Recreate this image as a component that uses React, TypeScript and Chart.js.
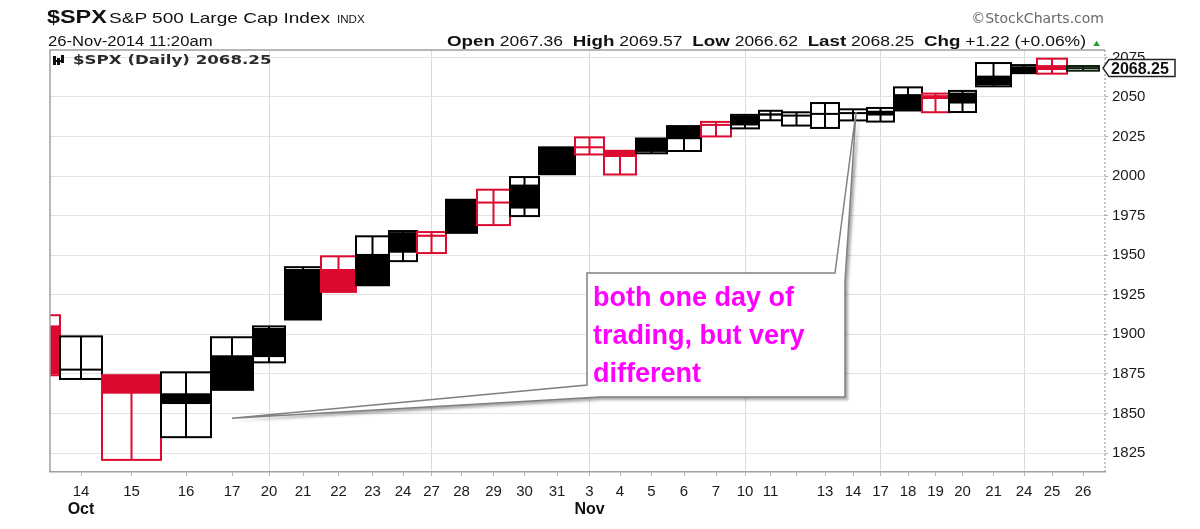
import React, { useEffect, useRef } from "react";
import { Chart, registerables } from "chart.js";
Chart.register(...registerables);

// ---------------- data ----------------
const tickLabels = ["13","14","15","16","17","20","21","22","23","24","27","28","29","30","31","3","4","5","6","7","10","11","","13","14","17","18","19","20","21","24","25","26"];
const monthLabels = ["Oct", "Nov"];
const monthIdx = [1, 15];
const weekStartIdx = [5, 10, 15, 20, 25, 30];
const yTickValues = [1825, 1850, 1875, 1900, 1925, 1950, 1975, 2000, 2025, 2050, 2075];

const openP = [1905.65,1877.11,1874.18,1855.95,1864.91,1885.62,1909.38,1941.29,1931.02,1951.59,1962.97,1964.14,1983.29,1979.49,2001.20,2018.21,2015.81,2015.29,2023.33,2032.36,2032.01,2038.20,2037.75,2039.21,2039.74,2038.29,2041.48,2051.16,2045.87,2057.46,2065.07,2070.15,2067.36];
const highP = [1912.09,1898.71,1874.18,1876.01,1898.16,1905.03,1942.45,1949.31,1961.95,1965.27,1964.64,1985.05,1991.40,1999.40,2018.19,2024.46,2015.98,2023.77,2031.61,2034.26,2038.70,2041.28,2040.33,2046.18,2042.22,2043.07,2056.08,2052.14,2053.84,2071.46,2070.17,2074.21,2069.57];
const lowP = [1874.14,1871.79,1820.66,1835.02,1864.91,1882.30,1909.38,1926.83,1931.02,1946.27,1951.37,1964.14,1969.04,1974.75,2001.20,2013.68,2001.01,2014.42,2015.86,2025.07,2030.17,2035.28,2031.95,2030.44,2035.20,2034.46,2041.48,2040.37,2040.49,2056.75,2065.07,2064.75,2066.62];
const closeP = [1874.74,1877.70,1862.49,1862.76,1886.76,1904.01,1941.28,1927.11,1950.82,1964.58,1961.63,1985.05,1982.30,1994.65,2018.05,2017.81,2012.10,2023.57,2031.21,2031.92,2038.26,2039.68,2038.25,2039.33,2039.82,2041.32,2051.80,2048.72,2052.75,2063.50,2069.41,2067.03,2068.25];
// volume (millions of shares) -> box widths
const volume = [3500,4200,5900,5000,4200,3200,3600,3500,3300,2800,2900,3100,3300,2900,3600,2900,3200,3100,3400,3000,2800,2300,2900,2800,2800,2700,2800,2700,2700,3500,2600,3000,3200];
// d = down (red), u = up (black), l = last (partial day)
const tone = ["d","u","d","u","u","u","u","d","u","u","d","u","d","u","u","d","d","u","u","d","u","u","u","u","u","u","u","d","u","u","u","d","l"];

const X_MIN = 2500;
const X_MAX = 108000;
const Y_MIN = 1813;
const Y_MAX = 2079.7;

const starts: number[] = [];
{
  let acc = 0;
  volume.forEach((v) => { starts.push(acc); acc += v; });
}
const centers = volume.map((v, i) => starts[i] + v / 2);
const visibleIdx = centers.map((_, i) => i).filter((i) => centers[i] >= X_MIN && centers[i] <= X_MAX);

const FONT = "'Liberation Sans', Arial, sans-serif";
const RED = "#dc0a30";
const BLACK = "#000000";
const LAST = "#0c200c";

const candlePlugin = {
  id: "candleVolume",
  afterDatasetsDraw(chart: any) {
    const { ctx, chartArea: a, scales } = chart;
    const x = scales.x, y = scales.y;
    ctx.save();
    ctx.beginPath();
    ctx.rect(a.left, a.top, a.right - a.left, a.bottom - a.top);
    ctx.clip();
    for (let i = 0; i < volume.length; i++) {
      const x0 = x.getPixelForValue(starts[i]);
      const x1 = x.getPixelForValue(starts[i] + volume[i]);
      const col = tone[i] === "d" ? RED : tone[i] === "l" ? LAST : BLACK;
      const yH = y.getPixelForValue(highP[i]);
      const yL = y.getPixelForValue(lowP[i]);
      const yO = y.getPixelForValue(openP[i]);
      const yC = y.getPixelForValue(closeP[i]);
      ctx.strokeStyle = col;
      ctx.fillStyle = col;
      ctx.lineWidth = 2;
      ctx.strokeRect(x0, yH, x1 - x0, yL - yH);
      ctx.beginPath();
      ctx.moveTo((x0 + x1) / 2, yH);
      ctx.lineTo((x0 + x1) / 2, yL);
      ctx.stroke();
      const top = Math.min(yO, yC);
      const h = Math.max(Math.abs(yO - yC), 2);
      ctx.fillRect(x0 - 1, top - (h === 2 ? 1 : 0), x1 - x0 + 2, h);
    }
    ctx.restore();
  },
  afterDraw(chart: any) {
    const { ctx, chartArea: a, scales } = chart;
    const x = scales.x, y = scales.y;
    ctx.save();
    // plot frame: top & left solid, right dotted
    ctx.strokeStyle = "#a0a0a0";
    ctx.lineWidth = 1.5;
    ctx.beginPath();
    ctx.moveTo(a.left, a.bottom);
    ctx.lineTo(a.left, a.top);
    ctx.lineTo(a.right, a.top);
    ctx.stroke();
    ctx.setLineDash([2, 2]);
    ctx.lineWidth = 1.2;
    ctx.beginPath();
    ctx.moveTo(a.right, a.top);
    ctx.lineTo(a.right, a.bottom);
    ctx.stroke();
    ctx.setLineDash([]);

    // legend icon
    ctx.fillStyle = "#111";
    ctx.fillRect(53, 56, 3, 9);
    ctx.fillRect(57, 58, 3, 7);
    ctx.fillRect(61, 55, 3, 8);
    ctx.fillRect(53, 60, 11, 2);

    // callout
    const tipA = { x: x.getPixelForValue(centers[4]), y: y.getPixelForValue(1847) };
    const tipB = { x: x.getPixelForValue(centers[24]) + 3, y: y.getPixelForValue(2040.5) };
    ctx.shadowColor = "rgba(0,0,0,0.35)";
    ctx.shadowOffsetX = 3;
    ctx.shadowOffsetY = 3;
    ctx.shadowBlur = 3;
    ctx.beginPath();
    ctx.moveTo(587, 273);
    ctx.lineTo(835, 273);
    ctx.lineTo(tipB.x, tipB.y);
    ctx.lineTo(845, 281);
    ctx.lineTo(845, 397);
    ctx.lineTo(600, 397);
    ctx.lineTo(tipA.x, tipA.y);
    ctx.lineTo(587, 385);
    ctx.closePath();
    ctx.fillStyle = "#ffffff";
    ctx.fill();
    ctx.shadowColor = "rgba(0,0,0,0)";
    ctx.strokeStyle = "#808080";
    ctx.lineWidth = 1.5;
    ctx.stroke();

    // last price tag
    const last = closeP[closeP.length - 1];
    const py = y.getPixelForValue(last);
    const tx = a.right - 2;
    ctx.beginPath();
    ctx.moveTo(tx, py);
    ctx.lineTo(tx + 6, py - 8.5);
    ctx.lineTo(tx + 72, py - 8.5);
    ctx.lineTo(tx + 72, py + 8.5);
    ctx.lineTo(tx + 6, py + 8.5);
    ctx.closePath();
    ctx.fillStyle = "#fff";
    ctx.fill();
    ctx.strokeStyle = "#222";
    ctx.lineWidth = 1.5;
    ctx.stroke();
    ctx.fillStyle = "#111";
    ctx.font = `bold 16px ${FONT}`;
    ctx.textBaseline = "middle";
    ctx.textAlign = "left";
    ctx.fillText(last.toFixed(2), tx + 8, py + 1);
    ctx.restore();
  },
};

function Txt(props: any) {
  const { x, base, size, bold, color, family, sx = 1, right, children } = props;
  const style: any = {
    position: "absolute",
    top: base - 0.846 * size,
    fontSize: size,
    lineHeight: `${size}px`,
    fontWeight: bold ? 700 : 400,
    color: color || "#111",
    fontFamily: family || FONT,
    whiteSpace: "nowrap",
    transform: `scaleX(${sx})`,
    transformOrigin: right ? "right top" : "left top",
  };
  if (right) style.right = 1200 - x;
  else style.left = x;
  return <div style={style}>{children}</div>;
}

export default function App() {
  const ref = useRef<HTMLCanvasElement>(null);
  useEffect(() => {
    if (!ref.current) return;
    const chart = new Chart(ref.current, {
      type: "scatter",
      data: {
        datasets: [
          {
            data: centers.map((c, i) => ({ x: c, y: closeP[i] })),
            pointRadius: 0,
            showLine: false,
          },
        ],
      },
      options: {
        animation: false,
        responsive: false,
        devicePixelRatio: 1,
        layout: { padding: { top: 50, left: 50, right: 0, bottom: 0 } },
        plugins: { legend: { display: false }, tooltip: { enabled: false }, title: { display: false } },
        scales: {
          x: {
            type: "linear",
            position: "bottom",
            min: X_MIN,
            max: X_MAX,
            weight: 0,
            afterFit: (s: any) => { s.height = 24; },
            afterBuildTicks: (s: any) => { s.ticks = visibleIdx.map((i) => ({ value: centers[i] })); },
            ticks: {
              autoSkip: false,
              maxRotation: 0,
              minRotation: 0,
              padding: 7,
              color: "#1a1a1a",
              font: { family: FONT, size: 15 },
              callback: (_v: any, idx: number) => tickLabels[visibleIdx[idx]],
            },
            grid: {
              color: (c: any) => (weekStartIdx.includes(visibleIdx[c.index]) ? "#dadada" : "rgba(0,0,0,0)"),
              tickColor: "#b0b0b0",
              tickLength: 4,
              lineWidth: 1,
            },
            border: { color: "#a0a0a0", width: 1.5 },
          },
          xm: {
            type: "linear",
            position: "bottom",
            min: X_MIN,
            max: X_MAX,
            weight: 1,
            afterFit: (s: any) => { s.height = 33; },
            afterBuildTicks: (s: any) => { s.ticks = monthIdx.map((i) => ({ value: centers[i] })); },
            ticks: {
              autoSkip: false,
              maxRotation: 0,
              minRotation: 0,
              padding: -4,
              color: "#111",
              font: { family: FONT, size: 16, weight: "bold" },
              callback: (_v: any, idx: number) => monthLabels[idx],
            },
            grid: { display: false },
            border: { display: false },
          },
          y: {
            type: "linear",
            position: "right",
            min: Y_MIN,
            max: Y_MAX,
            afterFit: (s: any) => { s.width = 95; },
            afterBuildTicks: (s: any) => { s.ticks = yTickValues.map((v) => ({ value: v })); },
            ticks: {
              padding: 4,
              color: "#1a1a1a",
              font: { family: FONT, size: 15 },
              callback: (v: any) => String(v),
            },
            grid: { color: "#e2e2e2", tickColor: "#b0b0b0", tickLength: 3, lineWidth: 1 },
            border: { display: false },
          },
        },
      } as any,
      plugins: [candlePlugin],
    });
    return () => chart.destroy();
  }, []);

  return (
    <div style={{ position: "absolute", left: 0, top: 0, width: 1200, height: 529, background: "#fff", overflow: "hidden" }}>
      <canvas ref={ref} width={1200} height={529} style={{ position: "absolute", left: 0, top: 0, width: 1200, height: 529 }} />
      <Txt x={47} base={23} size={18} bold sx={1.3}>$SPX</Txt>
      <Txt x={109} base={23} size={15} sx={1.27}>S&amp;P 500 Large Cap Index</Txt>
      <Txt x={337} base={23} size={11} sx={1.05}>INDX</Txt>
      <Txt x={1104} base={23} size={14} right color="#6a6a6a" family="'DejaVu Sans', Verdana, sans-serif">©StockCharts.com</Txt>
      <Txt x={48} base={46} size={14} sx={1.19}>26-Nov-2014 11:20am</Txt>
      <Txt x={1102} base={46} size={14} sx={1.25} right>
        <b style={{ fontSize: 15 }}>Open</b> 2067.36&nbsp;&nbsp;<b style={{ fontSize: 15 }}>High</b> 2069.57&nbsp;&nbsp;<b style={{ fontSize: 15 }}>Low</b> 2066.62&nbsp;&nbsp;<b style={{ fontSize: 15 }}>Last</b> 2068.25&nbsp;&nbsp;<b style={{ fontSize: 15 }}>Chg</b> +1.22 (+0.06%) <span style={{ color: "#2a9a3a", fontSize: 9 }}>▲</span>
      </Txt>
      <Txt x={73} base={64} size={13} bold sx={1.28} color="#2a2a2a" family="'DejaVu Sans', Verdana, sans-serif">$SPX (Daily) 2068.25</Txt>
      <Txt x={593} base={307} size={27} bold color="#ff00ff">both one day of</Txt>
      <Txt x={593} base={345} size={27} bold color="#ff00ff">trading, but very</Txt>
      <Txt x={593} base={383} size={27} bold color="#ff00ff">different</Txt>
    </div>
  );
}
